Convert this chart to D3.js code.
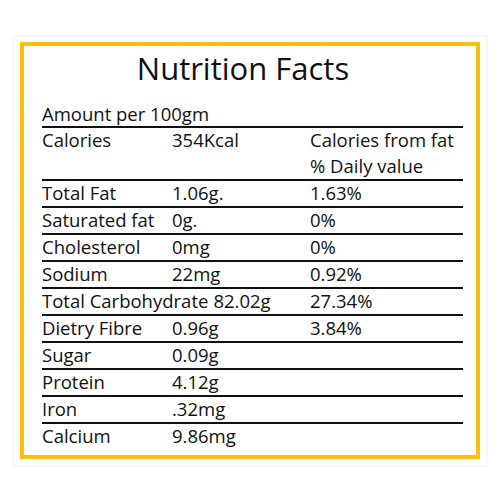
<!DOCTYPE html>
<html><head><meta charset="utf-8">
<script src="https://cdn.jsdelivr.net/npm/d3@7"></script>
<style>body{margin:0;background:#fff}</style></head>
<body><svg id="c" width="500" height="500"></svg>
<script>
const title = "Nutrition Facts";
const names = ["Total Fat","Saturated fat","Cholesterol","Sodium","Total Carbohydrate","Dietry Fibre","Sugar","Protein","Iron","Calcium"];
const amounts = ["1.06g.","0g.","0mg","22mg","82.02g","0.96g","0.09g","4.12g",".32mg","9.86mg"];
const daily = ["1.63%","0%","0%","0.92%","27.34%","3.84%","","","",""];

const svg = d3.select("#c");
const font = "'Open Sans', 'Noto Sans', sans-serif";
svg.append("rect").attr("x",13).attr("y",36).attr("width",474).attr("height",430).attr("fill","none").attr("stroke","#f3eeee").attr("stroke-width",1);
svg.append("rect").attr("x",22).attr("y",44).attr("width",456).attr("height",413).attr("fill","#fff").attr("stroke","#FDC010").attr("stroke-width",4);
svg.append("text").attr("x",243).attr("y",80).attr("text-anchor","middle").attr("font-family",font).attr("font-size",31).attr("fill","#111").text(title);

const y = d3.scaleLinear().domain([0,1]).range([207,234]);
const x1=42,x2=172,x3=310;
const t=(x,yy,s)=>svg.append("text").attr("x",x).attr("y",yy).attr("font-family",font).attr("font-size",18.5).attr("fill","#111").text(s);
const line=yy=>svg.append("line").attr("x1",42).attr("x2",463).attr("y1",yy).attr("y2",yy).attr("stroke","#111").attr("stroke-width",2);

t(x1,121,"Amount per 100gm"); line(127);
t(x1,147,"Calories"); t(x2,147,"354Kcal"); t(x3,147,"Calories from fat");
t(x3,173,"% Daily value"); line(180);
names.forEach((n,i)=>{
  const base=y(i)-7;
  const nt=t(x1,base,n);
  const w=nt.node().getComputedTextLength();
  t(Math.max(x2,x1+w+5),base,amounts[i]);
  if(daily[i]) t(x3,base,daily[i]);
  if(i<names.length-1) line(y(i));
});
</script></body></html>
